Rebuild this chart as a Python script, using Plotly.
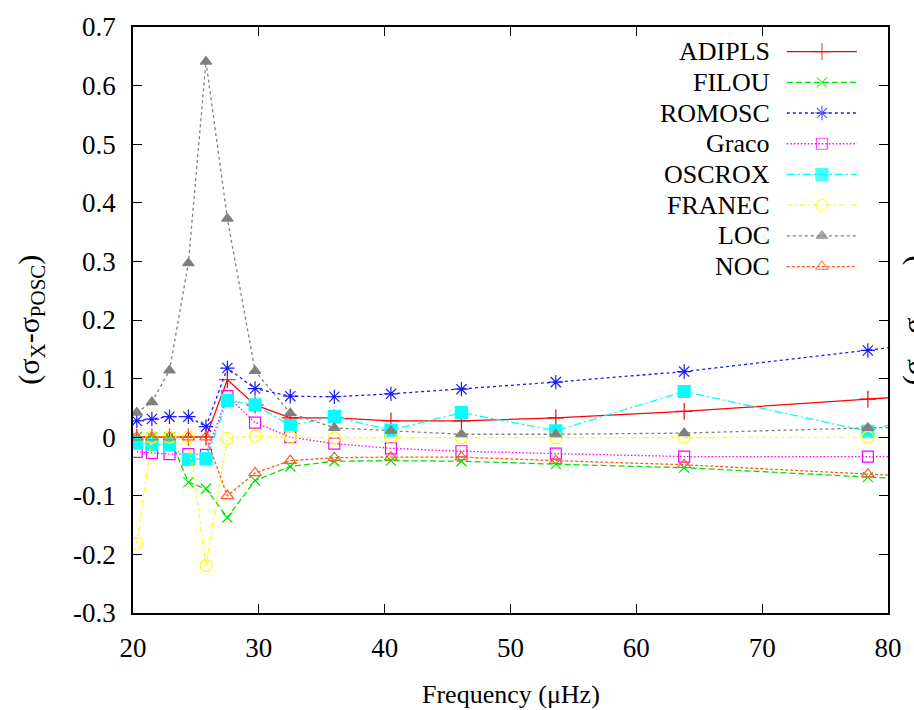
import plotly.graph_objects as go

# ---------------- data ----------------
freq = [20.3, 21.5, 22.9, 24.4, 25.8, 27.5, 29.7, 32.5, 36.0, 40.5, 46.1, 53.6, 63.8, 78.4, 95.0]

adipls = [0.0, 0.0, 0.0, 0.0, 0.0, 0.098, 0.055, 0.033, 0.033, 0.028, 0.028, 0.033, 0.044, 0.065, 0.089]
filou = [0.0, 0.0, 0.0, -0.077, -0.088, -0.137, -0.074, -0.050, -0.041, -0.040, -0.041, -0.046, -0.052, -0.068, -0.086]
romosc = [0.028, 0.031, 0.035, 0.035, 0.018, 0.118, 0.083, 0.070, 0.069, 0.074, 0.082, 0.094, 0.112, 0.148, 0.19]
graco = [-0.025, -0.027, -0.029, -0.029, -0.030, 0.070, 0.025, 0.0, -0.011, -0.019, -0.024, -0.028, -0.033, -0.033, -0.033]
oscrox = [-0.010, -0.012, -0.013, -0.038, -0.037, 0.063, 0.055, 0.020, 0.035, 0.012, 0.042, 0.011, 0.078, 0.010, 0.12]
franec = [-0.181, 0.0, 0.0, 0.0, -0.219, -0.002, 0.002, 0.0, -0.001, -0.001, -0.001, -0.001, 0.0, 0.0, 0.0]
loc = [0.042, 0.060, 0.114, 0.297, 0.641, 0.373, 0.113, 0.041, 0.016, 0.011, 0.005, 0.005, 0.007, 0.016, 0.02]
noc = [0.0, 0.0, 0.0, 0.0, 0.0, -0.100, -0.061, -0.040, -0.035, -0.034, -0.034, -0.040, -0.047, -0.063, -0.08]

series_names = ["ADIPLS", "FILOU", "ROMOSC", "Graco", "OSCROX", "FRANEC", "LOC", "NOC"]
series_values = [adipls, filou, romosc, graco, oscrox, franec, loc, noc]

x_ticks = [20, 30, 40, 50, 60, 70, 80]
x_ticklabels = ["20", "30", "40", "50", "60", "70", "80"]
y_ticks = [-0.3, -0.2, -0.1, 0, 0.1, 0.2, 0.3, 0.4, 0.5, 0.6, 0.7]
y_ticklabels = ["-0.3", "-0.2", "-0.1", "0", "0.1", "0.2", "0.3", "0.4", "0.5", "0.6", "0.7"]

# ---------------- styles ----------------
styles = [
    dict(color="#ff0000", dash="solid", symbol="cross-thin", size=12),
    dict(color="#00e000", dash="6px,3px", symbol="x-thin", size=10),
    dict(color="#1a1aff", dash="3px,3px", symbol="asterisk", size=12),
    dict(color="#ff00ff", dash="1.5px,2px", symbol="square-open", size=11),
    dict(color="#00ffff", dash="8px,3px,2px,3px", symbol="square", size=12),
    dict(color="#ffff00", dash="5px,3px,2px,3px", symbol="circle-open", size=12),
    dict(color="#808080", dash="3px,3px", symbol="triangle-up", size=10),
    dict(color="#ff5a1f", dash="3px,2px", symbol="triangle-up-open", size=11),
]

FONT = "Liberation Serif"

fig = go.Figure()

for name, vals, st in zip(series_names, series_values, styles):
    fig.add_trace(go.Scatter(
        x=freq, y=vals, name=name, mode="lines+markers",
        line=dict(color=st["color"], width=1.3, dash=st["dash"]),
        marker=dict(symbol=st["symbol"], size=st["size"], color=st["color"],
                    line=dict(color=st["color"], width=1.2)),
        showlegend=False,
    ))

# ---------------- custom gnuplot-style legend ----------------
leg_x0, leg_xm, leg_x1 = 0.866, 0.9125, 0.959
leg_text_x = 0.846
leg_top = 0.958
leg_step = 0.0524
annotations = []
for i, (name, st) in enumerate(zip(series_names, styles)):
    yy = leg_top - i * leg_step
    fig.add_trace(go.Scatter(
        x=[leg_x0, leg_xm, leg_x1], y=[yy, yy, yy], mode="lines+markers",
        xaxis="x2", yaxis="y2",
        line=dict(color=st["color"], width=1.3, dash=st["dash"]),
        marker=dict(symbol=st["symbol"], size=[0, st["size"], 0], color=st["color"],
                    line=dict(color=st["color"], width=1.2)),
        showlegend=False, hoverinfo="skip",
    ))
    annotations.append(dict(
        x=leg_text_x, y=yy, xref="paper", yref="paper", text=name,
        showarrow=False, xanchor="right", yanchor="middle",
        font=dict(family=FONT, size=26, color="black"),
    ))

# axis titles
annotations.append(dict(
    x=0.5, y=-0.139, xref="paper", yref="paper", text="Frequency (μHz)",
    showarrow=False, xanchor="center", yanchor="middle",
    font=dict(family=FONT, size=26, color="black"),
))
annotations.append(dict(
    x=-0.1355, y=0.5, xref="paper", yref="paper",
    text="(σ<sub>X</sub>-σ<sub>POSC</sub>)", textangle=-90,
    showarrow=False, xanchor="center", yanchor="middle",
    font=dict(family=FONT, size=30, color="black"),
))
# fragment of neighbouring panel's label at the right edge (cut off as in the reference)
annotations.append(dict(
    x=1.036, y=0.5, xref="paper", yref="paper",
    text="(σ<sub>X</sub>-σ<sub>POSC</sub>)", textangle=-90,
    showarrow=False, xanchor="center", yanchor="middle",
    font=dict(family=FONT, size=30, color="black"),
))

axis_common = dict(
    showline=True, linecolor="black", linewidth=1.5, mirror="ticks",
    ticks="inside", ticklen=9, tickwidth=1.3, tickcolor="black",
    showgrid=False, zeroline=False,
    tickfont=dict(family=FONT, size=27, color="black"),
)

fig.update_layout(
    width=914, height=710,
    margin=dict(l=133, r=21, t=22, b=97),
    paper_bgcolor="white", plot_bgcolor="white",
    showlegend=False,
    font=dict(family=FONT),
    xaxis=dict(range=[20, 80], tickvals=x_ticks, ticktext=x_ticklabels,
               ticklabelstandoff=10, **axis_common),
    yaxis=dict(range=[-0.3, 0.7], tickvals=y_ticks, ticktext=y_ticklabels,
               ticklabelstandoff=10, **axis_common),
    xaxis2=dict(overlaying="x", range=[0, 1], visible=False, anchor="y2"),
    yaxis2=dict(overlaying="y", range=[0, 1], visible=False, anchor="x2"),
    annotations=annotations,
)

fig.write_html("out.html")
